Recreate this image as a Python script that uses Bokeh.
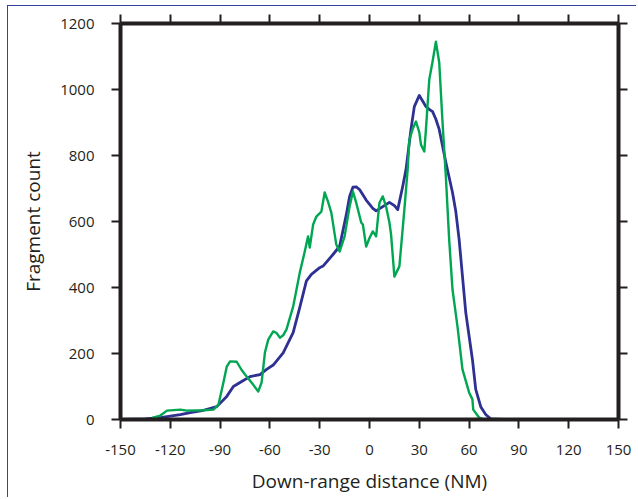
from bokeh.plotting import figure
from bokeh.models import Range1d, LinearAxis, FixedTicker
from bokeh.embed import file_html
from bokeh.resources import INLINE

# Blue series (fragment count vs down-range distance)
blue_x = [-150, -135, -126, -114, -108, -100, -92, -86, -82, -76, -72, -66, -62, -58,
          -52, -46, -42, -38, -35, -30, -28, -22, -18, -14, -12, -10, -8, -6, -2, 2, 4,
          8, 12, 15, 17, 20, 22, 25, 27, 30, 32, 34, 36, 38, 40, 42, 46, 50, 52, 54, 58,
          62, 64, 67, 70, 73, 80, 87]
blue_y = [0, 2, 6, 15, 21, 28, 39, 70, 100, 118, 130, 136, 152, 165,
          202, 263, 340, 420, 440, 460, 465, 500, 525, 620, 676, 704, 705, 697, 665, 640, 632,
          645, 658, 648, 636, 706, 758, 880, 948, 982, 965, 948, 940, 933, 910, 879, 779, 688, 630, 545, 324,
          182, 91, 39, 15, 2, 0, 0]

# Green series
green_x = [-131, -126, -122, -114, -110, -100, -94, -91, -88, -86, -84, -80, -77, -74,
           -70, -67, -65, -63, -61, -58, -56, -54, -52, -50, -46, -42, -39, -37, -36, -34,
           -32, -29, -27, -25, -23, -20, -18, -15, -12, -10, -8, -5, -4, -2, 0, 2, 4, 6, 8,
           10, 12, 13, 15, 18, 21, 23, 24, 26, 28, 30, 31, 33, 34, 36, 38, 40, 42, 44, 46,
           48, 50, 53, 56, 60, 62, 62.5, 66, 68]
green_y = [5, 12, 27, 30, 27, 28, 30, 45, 112, 160, 176, 175, 150, 130,
           105, 85, 112, 203, 242, 267, 262, 248, 255, 273, 342, 445, 509, 555, 521, 590,
           615, 630, 688, 660, 627, 530, 509, 555, 645, 691, 657, 597, 591, 524, 550, 570, 555, 657, 676,
           645, 597, 560, 433, 464, 636, 758, 848, 880, 903, 870, 833, 812, 879, 1030, 1085, 1145, 1082, 900, 736,
           545, 394, 282, 152, 82, 61, 30, 6, 2]

x_ticks = [-150, -120, -90, -60, -30, 0, 30, 60, 90, 120, 150]
y_ticks = [0, 200, 400, 600, 800, 1000, 1200]
x_tick_labels = {t: str(t) for t in x_ticks}
y_tick_labels = {t: str(t) for t in y_ticks}

FONT = "Open Sans"
TXT = "#231f20"

p = figure(width=629, height=492, output_backend="svg", toolbar_location=None,
           x_range=Range1d(-150, 150), y_range=Range1d(0, 1200),
           x_axis_label="Down-range distance (NM)", y_axis_label="Fragment count",
           min_border_left=112, min_border_right=19, min_border_top=17, min_border_bottom=79)
p.grid.visible = False
p.outline_line_color = None
p.background_fill_color = "white"
p.border_fill_color = "white"
p.styles = {"margin-left": "7px", "margin-top": "5px",
            "border-left": "1.5px solid #34449a", "border-top": "1.5px solid #34449a"}

top_ax = LinearAxis()
right_ax = LinearAxis()
p.add_layout(top_ax, "above")
p.add_layout(right_ax, "right")

for ax in p.xaxis:
    ax.ticker = FixedTicker(ticks=x_ticks)
for ax in p.yaxis:
    ax.ticker = FixedTicker(ticks=y_ticks)

for ax in p.axis:
    ax.axis_line_width = 4
    ax.axis_line_color = "#231f20"
    ax.major_tick_line_width = 2
    ax.major_tick_line_color = "#231f20"
    ax.major_tick_out = 9
    ax.major_tick_in = 0
    ax.minor_tick_line_color = None
    ax.major_label_text_font = FONT
    ax.major_label_text_font_size = "15px"
    ax.major_label_text_color = TXT
    ax.axis_label_text_font = FONT
    ax.axis_label_text_font_size = "19px"
    ax.axis_label_text_font_style = "normal"
    ax.axis_label_text_color = TXT

top_ax.major_label_overrides = {t: "" for t in x_ticks}
top_ax.major_label_standoff = 0
right_ax.major_label_overrides = {t: "" for t in y_ticks}
right_ax.major_label_standoff = 0

bottom = p.below[0]
left = p.left[0]
bottom.major_label_overrides = x_tick_labels
left.major_label_overrides = y_tick_labels
bottom.major_label_standoff = 16
bottom.axis_label_standoff = 10
left.major_label_standoff = 17
left.axis_label_standoff = 11

p.line(blue_x, blue_y, line_color="#2e3192", line_width=2.8, line_join="round")
p.line(green_x, green_y, line_color="#00a651", line_width=2.4, line_join="round")

open("out.html", "w").write(file_html(p, INLINE))
